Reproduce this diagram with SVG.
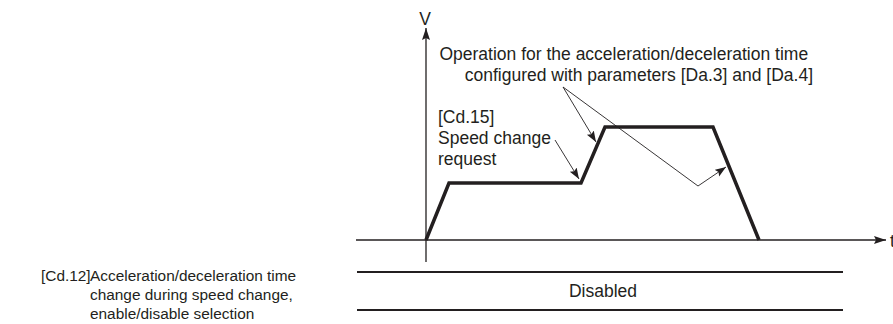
<svg xmlns="http://www.w3.org/2000/svg" width="893" height="324" viewBox="0 0 893 324">
<style>
  text { font-family: "Liberation Sans", Arial, sans-serif; fill: #231f20; }
  .big { font-size: 17.5px; }
  .small { font-size: 15.4px; }
  .axis { stroke: #231f20; stroke-width: 1.3; fill: none; }
  .thin { stroke: #231f20; stroke-width: 0.9; fill: none; }
  .profile { stroke: #231f20; stroke-width: 3.5; fill: none; stroke-linejoin: miter; }
  .band { stroke: #231f20; stroke-width: 2; }
</style>
<defs>
  <marker id="axisArrow" markerWidth="14" markerHeight="10" refX="12" refY="4" orient="auto" markerUnits="userSpaceOnUse">
    <path d="M0,0 L12,4 L0,8 L2,4 Z" fill="#231f20"/>
  </marker>
  <marker id="callArrow" markerWidth="12" markerHeight="10" refX="11" refY="4" orient="auto" markerUnits="userSpaceOnUse">
    <path d="M0,0 L11,4 L0,8 L2,4 Z" fill="#231f20"/>
  </marker>
</defs>

<g id="axes">
  <line class="axis" x1="426" y1="262" x2="426" y2="28" marker-end="url(#axisArrow)"/>
  <line class="axis" x1="356" y1="240" x2="886" y2="240" marker-end="url(#axisArrow)"/>
  <text id="label-v" class="big" x="425" y="25" text-anchor="middle">V</text>
  <text id="label-t" class="big" x="890" y="247">t</text>
</g>

<g id="speed-profile">
  <polyline class="profile" points="426,240 449,183 581,183 605,127 713,127 759,240"/>
</g>

<g id="annotation-operation">
  <text class="big" text-anchor="end">
    <tspan x="813" y="60">Operation for the acceleration/deceleration time</tspan>
    <tspan x="813" y="81">configured with parameters [Da.3] and [Da.4]</tspan>
  </text>
</g>

<g id="annotation-speed-change">
  <text class="big">
    <tspan x="438" y="123">[Cd.15]</tspan>
    <tspan x="438" y="144">Speed change</tspan>
    <tspan x="438" y="165">request</tspan>
  </text>
</g>

<g id="connectors">
  <line class="thin" x1="555" y1="140" x2="579" y2="179" marker-end="url(#callArrow)"/>
  <line class="thin" x1="563" y1="87" x2="596" y2="142" marker-end="url(#callArrow)"/>
  <polyline class="thin" points="563,87 698,186 726,167" marker-end="url(#callArrow)"/>
</g>

<g id="setting-band">
  <line class="band" x1="357" y1="272" x2="843" y2="272"/>
  <line class="band" x1="357" y1="310" x2="843" y2="310"/>
  <text class="big" x="603" y="297" text-anchor="middle">Disabled</text>
</g>

<g id="label-cd12">
  <text class="small">
    <tspan x="41" y="281">[Cd.12]</tspan>
    <tspan x="90" y="281">Acceleration/deceleration time</tspan>
    <tspan x="90" y="300">change during speed change,</tspan>
    <tspan x="90" y="319">enable/disable selection</tspan>
  </text>
</g>
</svg>
